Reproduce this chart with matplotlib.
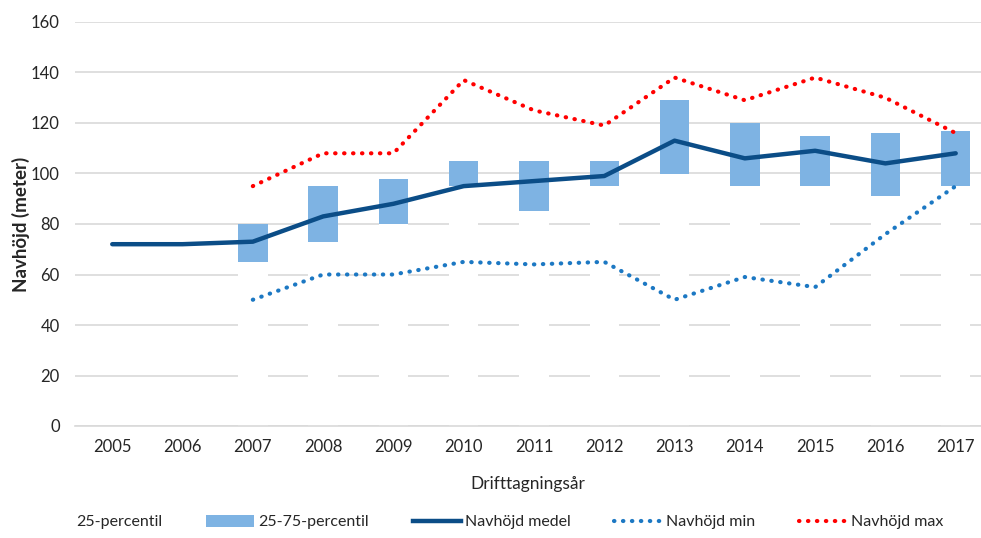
import matplotlib.pyplot as plt
from matplotlib.patches import Patch
from matplotlib.lines import Line2D
import numpy as np

plt.rcParams['font.family'] = ['Lato', 'DejaVu Sans']

# Data
years = ['2005', '2006', '2007', '2008', '2009', '2010', '2011',
         '2012', '2013', '2014', '2015', '2016', '2017']
p25 = [None, None, 65, 73, 80, 95, 85, 95, 100, 95, 95, 91, 95]
p75 = [None, None, 80, 95, 98, 105, 105, 105, 129, 120, 115, 116, 117]
medel = [72, 72, 73, 83, 88, 95, 97, 99, 113, 106, 109, 104, 108]
navmin = [None, None, 50, 60, 60, 65, 64, 65, 50, 59, 55, 76, 95]
navmax = [None, None, 95, 108, 108, 137, 125, 119, 138, 129, 138, 130, 116]

x = np.arange(len(years))
fig = plt.figure(figsize=(9.81, 5.38), dpi=100)
ax = fig.add_axes([75 / 981, 112 / 538, 906 / 981, 404 / 538])

grid_col = '#D9D9D9'
ax.set_axisbelow(True)
ax.yaxis.grid(True, color=grid_col, linewidth=1.2)

# Stacked bars: white 25-percentil base hides grid, blue 25-75 on top
idx = [i for i in range(len(years)) if p25[i] is not None]
base = [p25[i] for i in idx]
span = [p75[i] - p25[i] for i in idx]
ax.bar(idx, base, width=0.42, color='white', zorder=1)
ax.bar(idx, span, bottom=base, width=0.42, color='#7EB3E3', zorder=1)

ax.plot(x, medel, color='#0B4D87', linewidth=3.2, solid_joinstyle='round',
        solid_capstyle='round', zorder=3)

dot = (0, (0.1, 2.05))
xm = [i for i in range(len(years)) if navmin[i] is not None]
ax.plot(xm, [navmin[i] for i in xm], color='#1C78C3', linewidth=3,
        linestyle=dot, dash_capstyle='round', zorder=3)
ax.plot(xm, [navmax[i] for i in xm], color='#FF0000', linewidth=3,
        linestyle=dot, dash_capstyle='round', zorder=3)

ax.set_xlim(-0.53, 12.36)
ax.set_ylim(0, 160)
ax.set_yticks(range(0, 161, 20))
ax.set_xticks(x)
ax.set_xticklabels(years)
ax.tick_params(axis='both', length=0, labelsize=12, colors='#262626')
ax.tick_params(axis='x', pad=9)
ax.tick_params(axis='y', pad=11)

for s in ['top', 'right', 'left']:
    ax.spines[s].set_visible(False)
ax.spines['bottom'].set_color(grid_col)
ax.spines['bottom'].set_linewidth(1.2)

ax.set_ylabel('Navhöjd (meter)', fontsize=13.5, fontweight='bold', color='#262626')
ax.yaxis.set_label_coords(-0.05, 0.5)
ax.set_xlabel('Drifttagningsår', fontsize=12.5, color='#262626')
ax.xaxis.set_label_coords(0.5, -0.123)

handles = [
    Patch(facecolor='white', edgecolor='none'),
    Patch(facecolor='#7EB3E3', edgecolor='none'),
    Line2D([], [], color='#0B4D87', linewidth=3.2),
    Line2D([], [], color='#1C78C3', linewidth=3, linestyle=dot, dash_capstyle='round'),
    Line2D([], [], color='#FF0000', linewidth=3, linestyle=dot, dash_capstyle='round'),
]
labels = ['25-percentil', '25-75-percentil', 'Navhöjd medel', 'Navhöjd min', 'Navhöjd max']
fig.legend(handles, labels, loc='center', bbox_to_anchor=(484 / 981, 1 - 522 / 538),
           ncol=5, frameon=False, fontsize=11.5, handlelength=3.0, handleheight=0.8,
           handletextpad=0.25, columnspacing=2.75, labelcolor='#262626')

plt.savefig('out.png', dpi=100)
